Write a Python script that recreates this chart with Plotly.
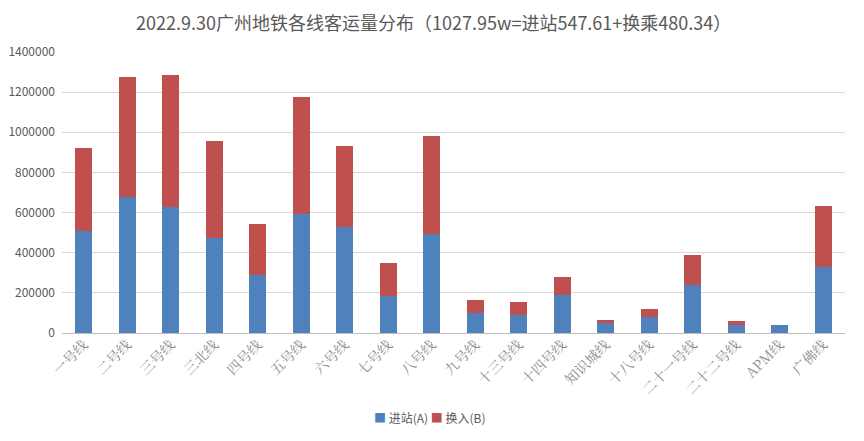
import plotly.graph_objects as go

# line names (x categories)
lines = ["一号线", "二号线", "三号线", "三北线", "四号线", "五号线", "六号线", "七号线", "八号线",
         "九号线", "十三号线", "十四号线", "知识城线", "十八号线", "二十一号线", "二十二号线",
         "APM线", "广佛线"]

# 进站(A) - entries
entry = [510000, 676000, 626000, 473000, 290000, 594000, 530000, 182000, 493000,
         100000, 91000, 191000, 50000, 78000, 241000, 38000, 38000, 327000]

# 换入(B) - transfers in
transfer = [411000, 597000, 661000, 485000, 253000, 582000, 403000, 167000, 490000,
            66000, 62000, 86000, 15000, 42000, 146000, 20000, 0, 307000]

y_ticks = [0, 200000, 400000, 600000, 800000, 1000000, 1200000, 1400000]

blue = "#4F81BD"
red = "#C0504D"
grey = "#595959"

fig = go.Figure()
fig.add_trace(go.Bar(name="进站(A)", x=lines, y=entry, marker=dict(color=blue, line=dict(width=0))))
fig.add_trace(go.Bar(name="换入(B)", x=lines, y=transfer, marker=dict(color=red, line=dict(width=0))))

# page body has an 8px margin, so the figure is a little smaller than the window
fig.update_layout(
    barmode="stack", bargap=0.62,
    width=848, height=425,
    margin=dict(l=54, r=11, t=44, b=100),
    plot_bgcolor="white", paper_bgcolor="white",
    font=dict(family="Noto Sans CJK SC", size=12, color=grey),
    title=dict(text="2022.9.30广州地铁各线客运量分布（1027.95w=进站547.61+换乘480.34）",
               x=0.502, xanchor="center", y=0.962, yanchor="middle",
               font=dict(size=18, color=grey)),
    showlegend=False,
)

# compact legend like the original
fig.add_annotation(
    text=f'<span style="color:{blue}">■</span> 进站(A) <span style="color:{red}">■</span> 换入(B)',
    xref="paper", yref="paper", x=0.47, y=-0.302, xanchor="center", yanchor="middle",
    showarrow=False, font=dict(size=12, color=grey))

fig.update_yaxes(range=[0, 1400000], tickvals=y_ticks, ticktext=[str(v) for v in y_ticks],
                 showgrid=True, gridcolor="#d9d9d9", gridwidth=1, zeroline=True,
                 zerolinecolor="#bfbfbf", zerolinewidth=1, ticks="", ticklabelstandoff=6,
                 tickfont=dict(size=12, color=grey), automargin=False)
fig.update_xaxes(tickangle=-45, automargin=False, showline=False, ticks="",
                 tickfont=dict(size=14, color="#8c8c8c", family="Noto Serif CJK SC, Noto Sans CJK SC"))

fig.write_html("out.html")
